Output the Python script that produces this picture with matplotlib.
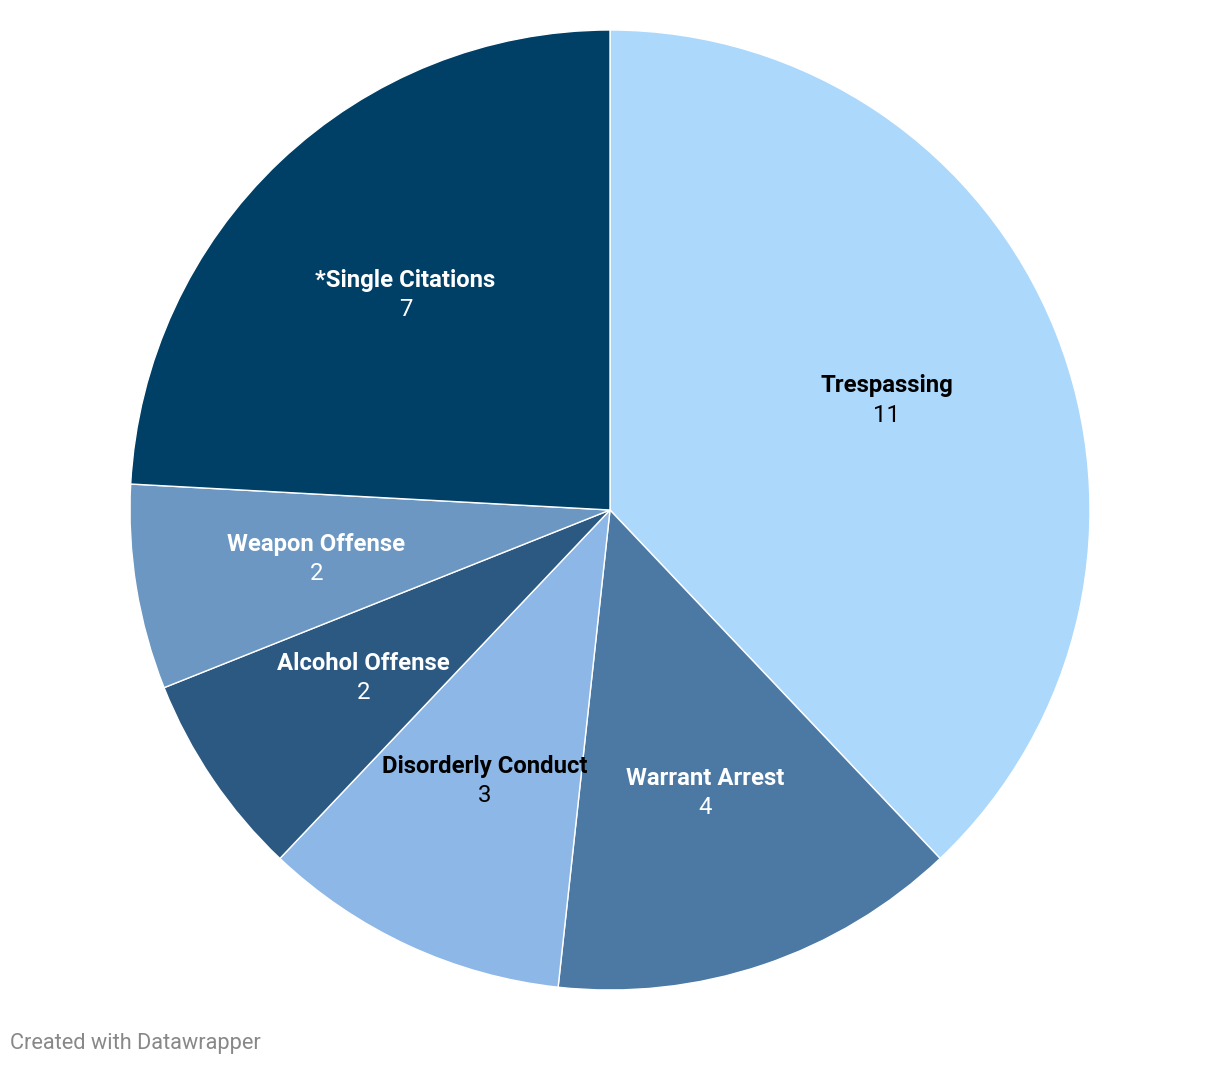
import numpy as np
import matplotlib.pyplot as plt

# ── Data ─────────────────────────────────────────────────────────────────────
labels = ["Trespassing", "Warrant Arrest", "Disorderly Conduct",
          "Alcohol Offense", "Weapon Offense", "*Single Citations"]
values = [11, 4, 3, 2, 2, 7]
colors = ["#acd8fc", "#4c79a4", "#8db7e7", "#2c5981", "#6b97c2", "#003f66"]
text_colors = ["#000000", "#ffffff", "#000000", "#ffffff", "#ffffff", "#ffffff"]

plt.rcParams["font.family"] = ["Roboto", "DejaVu Sans"]

W, H = 1220, 1066
fig = plt.figure(figsize=(W / 100, H / 100), dpi=100)
cx, cy, r = 610, 510, 480
ax = fig.add_axes([(cx - r) / W, (H - cy - r) / H, 2 * r / W, 2 * r / H])

wedges, _ = ax.pie(values, colors=colors, startangle=90, counterclock=False,
                   radius=1, wedgeprops=dict(edgecolor="white", linewidth=1))
ax.set_xlim(-1, 1)
ax.set_ylim(-1, 1)
ax.set_aspect("equal")
ax.axis("off")

# labels at ~0.62 R along the mid-angle of each slice
for w, lab, val, tc in zip(wedges, labels, values, text_colors):
    mid = np.deg2rad((w.theta1 + w.theta2) / 2)
    x, y = 0.62 * np.cos(mid), 0.62 * np.sin(mid)
    ax.text(x, y + 0.005, lab, ha="center", va="bottom", fontsize=17.2,
            fontweight="bold", color=tc)
    ax.text(x, y - 0.008, str(val), ha="center", va="top", fontsize=17.2,
            color=tc)

fig.text(10 / W, 1 - 1043 / H, "Created with Datawrapper", ha="left",
         va="center", fontsize=15.7, color="#888888")

fig.savefig("out.png", dpi=100)
